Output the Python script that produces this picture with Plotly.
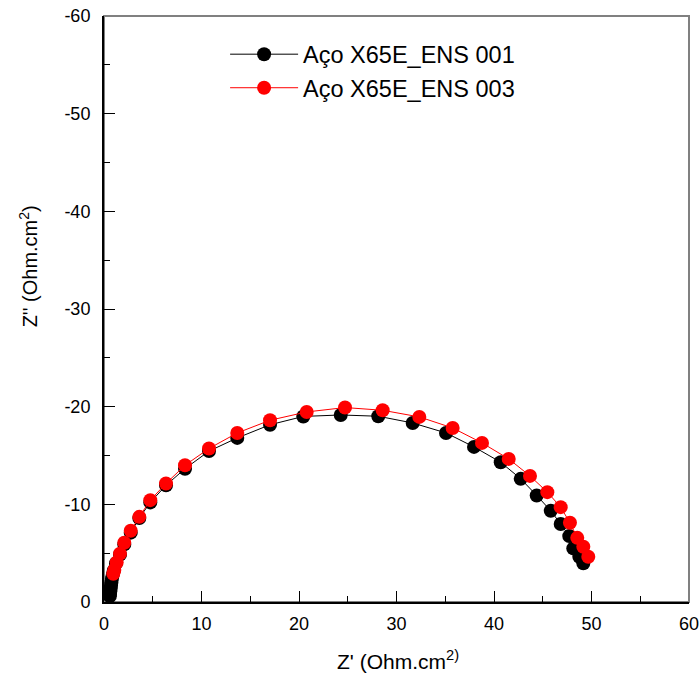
import plotly.graph_objects as go

# Aço X65E_ENS 001 (black)
x_001 = [0.60, 0.62, 0.65, 0.68, 0.72, 0.76, 0.82, 0.90, 1.00, 1.23, 1.64, 2.08, 2.74, 3.62,
         4.75, 6.36, 8.31, 10.77, 13.67, 17.03, 20.44, 24.28, 28.13, 31.66, 35.08, 37.95,
         40.69, 42.74, 44.38, 45.82, 46.84, 47.72, 48.13, 48.75, 49.16]
y_001 = [-0.6, -0.85, -1.1, -1.4, -1.7, -2.0, -2.4, -2.8, -3.2, -3.95, -4.85, -5.9, -7.1, -8.6,
         -10.2, -11.95, -13.65, -15.45, -16.8, -18.15, -19.0, -19.15, -19.02, -18.33, -17.31,
         -15.88, -14.31, -12.61, -10.91, -9.34, -7.98, -6.75, -5.49, -4.63, -3.96]

# Aço X65E_ENS 003 (red)
x_003 = [0.95, 1.06, 1.30, 1.64, 2.08, 2.74, 3.62, 4.75, 6.36, 8.31, 10.77, 13.67, 17.03,
         20.79, 24.72, 28.58, 32.34, 35.76, 38.77, 41.51, 43.69, 45.47, 46.84, 47.79, 48.54,
         49.16, 49.67]
y_003 = [-2.9, -3.27, -4.05, -4.95, -6.06, -7.29, -8.72, -10.43, -12.14, -14.0, -15.72, -17.31,
         -18.61, -19.46, -19.91, -19.63, -18.95, -17.82, -16.29, -14.65, -12.91, -11.25, -9.71,
         -8.11, -6.57, -5.65, -4.63]

names = ["Aço X65E_ENS 001", "Aço X65E_ENS 003"]
x_ticks = [0, 10, 20, 30, 40, 50, 60]
y_ticks = [0, -10, -20, -30, -40, -50, -60]
x_minor = [5, 15, 25, 35, 45, 55]
y_minor = [-5, -15, -25, -35, -45, -55]
x_title = "Z' (Ohm.cm<sup>2)</sup>"
y_title = "Z'' (Ohm.cm<sup>2</sup>)"

FONT = "Liberation Sans, Arial, sans-serif"

fig = go.Figure()
fig.add_trace(go.Scatter(x=x_001, y=y_001, mode="lines+markers", name=names[0],
                         line=dict(color="black", width=1),
                         marker=dict(color="black", size=14)))
fig.add_trace(go.Scatter(x=x_003, y=y_003, mode="lines+markers", name=names[1],
                         line=dict(color="red", width=1),
                         marker=dict(color="red", size=14)))

fig.add_shape(type="rect", xref="paper", yref="paper", x0=0, y0=0, x1=1, y1=1,
              line=dict(color="#808080", width=2), layer="below")

fig.add_annotation(text=x_title, xref="paper", yref="paper", x=0.503, y=-0.099,
                   xanchor="center", yanchor="middle", showarrow=False,
                   font=dict(size=21, family=FONT, color="black"))
fig.add_annotation(text=y_title, xref="paper", yref="paper", x=-0.129, y=0.572,
                   xanchor="center", yanchor="middle", showarrow=False, textangle=-90,
                   font=dict(size=20, family=FONT, color="black"))

axis_common = dict(ticks="inside", ticklen=11, tickwidth=1, tickcolor="black",
                   showline=True, linecolor="black", linewidth=2, showgrid=False,
                   zeroline=False, automargin=False, tickfont=dict(size=18),
                   ticklabeloverflow="allow")

fig.update_layout(
    width=700, height=675,
    margin=dict(l=104, r=11, t=16, b=73),
    paper_bgcolor="white", plot_bgcolor="white",
    font=dict(family=FONT, size=18, color="black"),
    showlegend=True,
    legend=dict(x=0.207, y=0.972, xanchor="left", yanchor="top",
                bgcolor="rgba(0,0,0,0)", font=dict(size=23.5, family=FONT),
                itemwidth=68, tracegroupgap=0),
    xaxis=dict(range=[0, 60], tickvals=x_ticks, ticktext=[str(v) for v in x_ticks],
               minor=dict(tickvals=x_minor, ticks="inside", ticklen=6,
                          tickcolor="black", tickwidth=1),
               ticklabelstandoff=4, **axis_common),
    yaxis=dict(range=[0, -60], tickvals=y_ticks, ticktext=[str(v) for v in y_ticks],
               minor=dict(tickvals=y_minor, ticks="inside", ticklen=6,
                          tickcolor="black", tickwidth=1),
               ticklabelstandoff=8, **axis_common),
)

fig.write_html("out.html", config={"displayModeBar": False},
               post_script="document.body.style.margin='0';document.body.style.overflow='hidden';")
